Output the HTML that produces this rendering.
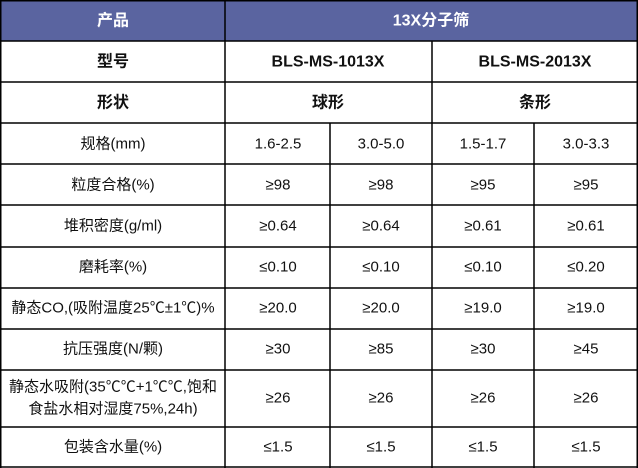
<!DOCTYPE html>
<html><head><meta charset="utf-8"><style>
html,body{margin:0;padding:0;background:#fff;}
svg{display:block}
text{font-family:"Liberation Sans","Noto Sans CJK SC",sans-serif;font-size:15px;fill:#111;text-anchor:middle;dominant-baseline:central}
.b{font-weight:bold;font-size:16px}
.w{fill:#fff}
</style></head><body>
<svg width="638" height="468" viewBox="0 0 638 468">
<rect x="0" y="0" width="638" height="41" fill="#5A64A0"/>
<g stroke="#000" stroke-width="1.5" fill="none">
<line x1="0" y1="41" x2="638" y2="41"/>
<line x1="0" y1="82" x2="638" y2="82"/>
<line x1="0" y1="123" x2="638" y2="123"/>
<line x1="0" y1="164" x2="638" y2="164"/>
<line x1="0" y1="205" x2="638" y2="205"/>
<line x1="0" y1="247" x2="638" y2="247"/>
<line x1="0" y1="288" x2="638" y2="288"/>
<line x1="0" y1="329" x2="638" y2="329"/>
<line x1="0" y1="370" x2="638" y2="370"/>
<line x1="0" y1="427" x2="638" y2="427"/>
<line x1="0" y1="467" x2="638" y2="467"/>
<line x1="0.75" y1="0" x2="0.75" y2="468"/>
<line x1="637.25" y1="0" x2="637.25" y2="468"/>
<line x1="0" y1="0.75" x2="638" y2="0.75"/>
<line x1="225" y1="0" x2="225" y2="468"/>
<line x1="432" y1="41" x2="432" y2="468"/>
<line x1="330" y1="123" x2="330" y2="468"/>
<line x1="534" y1="123" x2="534" y2="468"/>
</g>
<text class="b w" x="113" y="21">产品</text>
<text class="b w" x="431" y="21">13X分子筛</text>
<text class="b" x="113" y="62">型号</text>
<text class="b" x="328" y="62">BLS-MS-1013X</text>
<text class="b" x="535" y="62">BLS-MS-2013X</text>
<text class="b" x="113" y="103">形状</text>
<text class="b" x="328" y="103">球形</text>
<text class="b" x="535" y="103">条形</text>

<text x="113" y="144">规格(mm)</text>
<text x="278" y="144">1.6-2.5</text><text x="381" y="144">3.0-5.0</text><text x="483" y="144">1.5-1.7</text><text x="586" y="144">3.0-3.3</text>
<text x="113" y="185">粒度合格(%)</text>
<text x="278" y="185">≥98</text><text x="381" y="185">≥98</text><text x="483" y="185">≥95</text><text x="586" y="185">≥95</text>
<text x="113" y="226">堆积密度(g/ml)</text>
<text x="278" y="226">≥0.64</text><text x="381" y="226">≥0.64</text><text x="483" y="226">≥0.61</text><text x="586" y="226">≥0.61</text>
<text x="113" y="267">磨耗率(%)</text>
<text x="278" y="267">≤0.10</text><text x="381" y="267">≤0.10</text><text x="483" y="267">≤0.10</text><text x="586" y="267">≤0.20</text>
<text x="113" y="308">静态CO,(吸附温度25℃±1℃)%</text>
<text x="278" y="308">≥20.0</text><text x="381" y="308">≥20.0</text><text x="483" y="308">≥19.0</text><text x="586" y="308">≥19.0</text>
<text x="113" y="349">抗压强度(N/颗)</text>
<text x="278" y="349">≥30</text><text x="381" y="349">≥85</text><text x="483" y="349">≥30</text><text x="586" y="349">≥45</text>
<text x="113" y="387">静态水吸附(35℃℃+1℃℃,饱和</text>
<text x="113" y="409">食盐水相对湿度75%,24h)</text>
<text x="278" y="398">≥26</text><text x="381" y="398">≥26</text><text x="483" y="398">≥26</text><text x="586" y="398">≥26</text>
<text x="113" y="447">包装含水量(%)</text>
<text x="278" y="447">≤1.5</text><text x="381" y="447">≤1.5</text><text x="483" y="447">≤1.5</text><text x="586" y="447">≤1.5</text>
</svg>
</body></html>
